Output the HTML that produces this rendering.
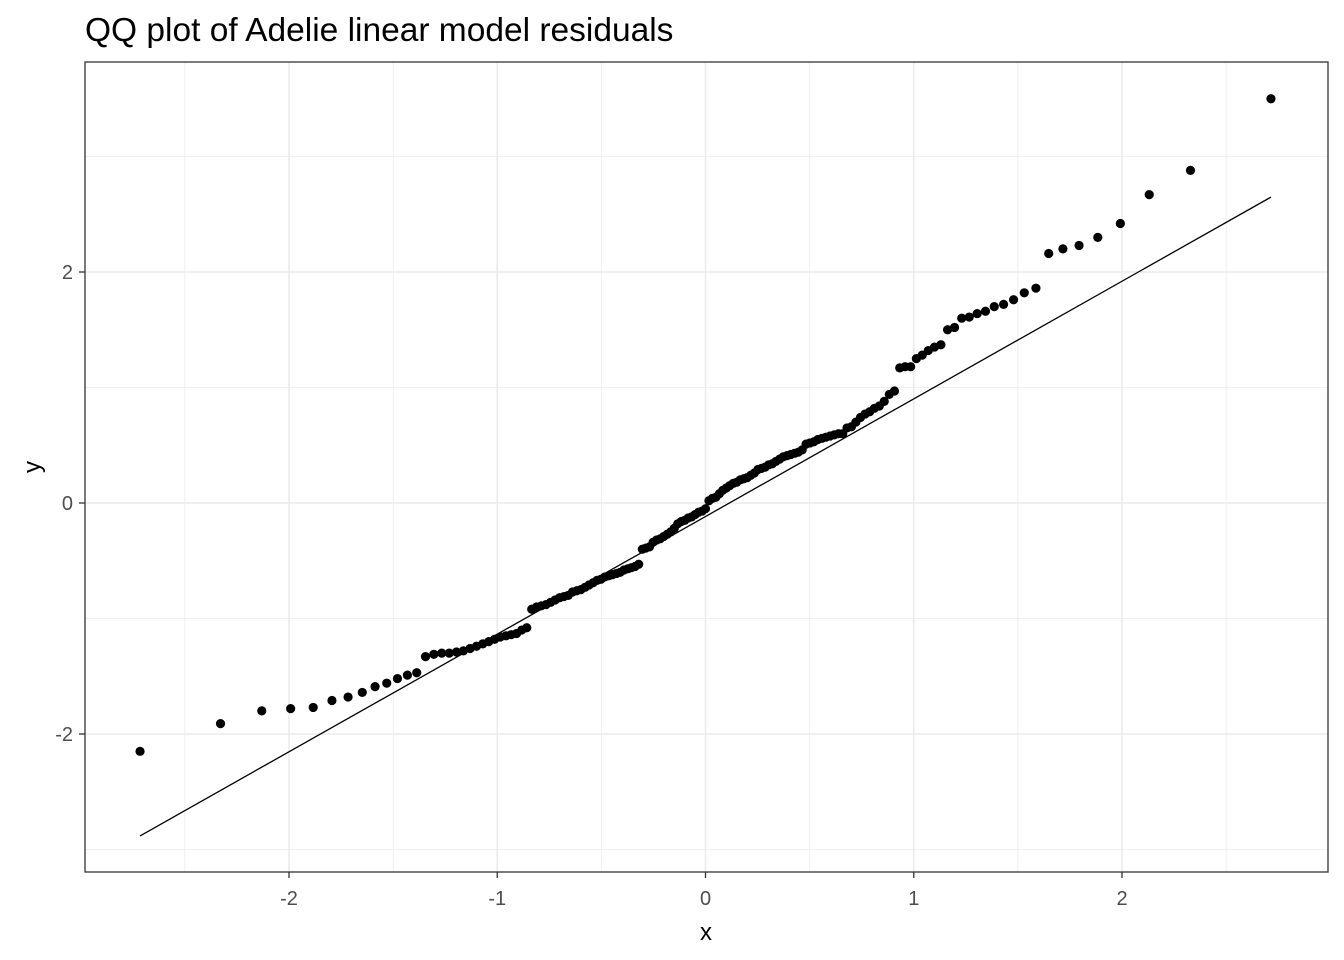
<!DOCTYPE html>
<html><head><meta charset="utf-8">
<style>
body{margin:0;background:#fff;}
svg{display:block;font-family:"Liberation Sans",Arial,sans-serif;}
</style></head>
<body>
<svg id="chart" width="1344" height="960" viewBox="0 0 1344 960">
<rect x="0" y="0" width="1344" height="960" fill="#fff"/>
<text x="85" y="41" font-size="33.5" fill="#000">QQ plot of Adelie linear model residuals</text>
<g id="grid"></g>
<g id="line"></g>
<g id="points"></g>
<rect x="85" y="62" width="1243" height="810" fill="none" stroke="#333" stroke-width="1.3"/>
<g id="axes"></g>
<text x="706" y="940" font-size="24" text-anchor="middle" fill="#000">x</text>
<text x="40" y="467" font-size="24" text-anchor="middle" fill="#000" transform="rotate(-90 40 467)">y</text>
</svg>
<script>
const sampleValues = [-2.15,-1.91,-1.80,-1.78,-1.77,-1.71,-1.68,-1.64,-1.59,-1.56,-1.52,-1.49,-1.47,
-1.33,-1.31,-1.30,-1.30,-1.29,-1.28,-1.26,-1.24,-1.22,
-1.20,-1.18,-1.16,-1.15,-1.14,-1.13,-1.10,-1.08,
-0.92,-0.90,-0.89,-0.88,-0.86,-0.84,-0.82,-0.81,-0.80,-0.77,-0.76,-0.75,-0.73,-0.71,-0.69,-0.67,-0.66,-0.64,-0.63,-0.62,-0.61,-0.60,-0.58,-0.57,-0.56,-0.55,-0.53,
-0.40,-0.39,-0.38,-0.34,-0.32,-0.31,-0.29,-0.27,-0.25,-0.22,-0.18,-0.16,-0.15,-0.13,-0.12,-0.10,-0.08,-0.07,
-0.05,0.02,0.04,0.05,0.08,0.11,0.13,0.15,0.17,0.18,0.20,0.21,0.22,0.24,0.26,0.29,0.30,0.31,0.33,0.34,0.36,0.38,0.40,0.41,0.42,0.43,0.44,0.46,0.51,0.52,0.53,0.55,0.56,0.57,0.58,0.59,0.60,0.60,0.65,0.66,0.70,0.74,0.77,0.79,0.82,
0.84,0.88,0.94,0.97,1.17,1.18,1.18,1.25,1.28,1.32,1.35,1.37,1.50,1.52,1.60,1.61,1.64,1.66,1.70,1.72,1.76,1.82,1.86,2.16,2.20,2.23,2.30,2.42,2.67,2.88,3.50];
const refLine = [1.0185, -0.117]; // slope, intercept
const xTicks = [-2,-1,0,1,2];
const yTicks = [-2,0,2];
const xMinor = [-2.5,-1.5,-0.5,0.5,1.5,2.5];
const yMinor = [-3,-1,1,3];

const NS="http://www.w3.org/2000/svg";
function sx(v){return 705.5+v*208.25;}
function sy(v){return 503-v*115.5;}
function qnorm(p){
  const a=[-39.6968302866538,220.946098424521,-275.928510446969,138.357751867269,-30.6647980661472,2.50662827745924];
  const b=[-54.4760987982241,161.585836858041,-155.698979859887,66.8013118877197,-13.2806815528857];
  const c=[-0.00778489400243029,-0.322396458041136,-2.40075827716184,-2.54973253934373,4.37466414146497,2.93816398269878];
  const d=[0.00778469570904146,0.32246712907004,2.445134137143,3.75440866190742];
  let q,r;
  if(p<0.02425){q=Math.sqrt(-2*Math.log(p));return (((((c[0]*q+c[1])*q+c[2])*q+c[3])*q+c[4])*q+c[5])/((((d[0]*q+d[1])*q+d[2])*q+d[3])*q+1);}
  if(p>1-0.02425){q=Math.sqrt(-2*Math.log(1-p));return -(((((c[0]*q+c[1])*q+c[2])*q+c[3])*q+c[4])*q+c[5])/((((d[0]*q+d[1])*q+d[2])*q+d[3])*q+1);}
  q=p-0.5;r=q*q;
  return (((((a[0]*r+a[1])*r+a[2])*r+a[3])*r+a[4])*r+a[5])*q/(((((b[0]*r+b[1])*r+b[2])*r+b[3])*r+b[4])*r+1);
}
function mk(tag,attrs,parent){const e=document.createElementNS(NS,tag);for(const k in attrs)e.setAttribute(k,attrs[k]);parent.appendChild(e);return e;}
const grid=document.getElementById('grid'),axes=document.getElementById('axes');
xMinor.forEach(v=>{const l=mk('line',{x1:sx(v),x2:sx(v),y1:62,y2:872,stroke:'#ebebeb','stroke-width':0.8},grid);

});
yMinor.forEach(v=>{const y=sy(v);if(y<62||y>872)return;const l=mk('line',{x1:85,x2:1328,y1:y,y2:y,stroke:'#ebebeb','stroke-width':0.8},grid);

});
xTicks.forEach(v=>{const x=sx(v);const l=mk('line',{x1:x,x2:x,y1:62,y2:872,stroke:'#ebebeb','stroke-width':1.6},grid);


const t=mk('line',{x1:x,x2:x,y1:872,y2:878,stroke:'#333','stroke-width':1.3},axes);


const tx=mk('text',{x:x,y:905,'font-size':20,'text-anchor':'middle',fill:'#4d4d4d'},axes);tx.textContent=v;

});
yTicks.forEach(v=>{const y=sy(v);const l=mk('line',{x1:85,x2:1328,y1:y,y2:y,stroke:'#ebebeb','stroke-width':1.6},grid);


const t=mk('line',{x1:79,x2:85,y1:y,y2:y,stroke:'#333','stroke-width':1.3},axes);


const tx=mk('text',{x:73,y:y+7,'font-size':20,'text-anchor':'end',fill:'#4d4d4d'},axes);tx.textContent=v;

});
const n=sampleValues.length;
const theo=sampleValues.map((_,i)=>qnorm((i+0.5)/n));
const x0=theo[0],x1=theo[n-1];
const ln=mk('line',{x1:sx(x0),y1:sy(refLine[1]+refLine[0]*x0),x2:sx(x1),y2:sy(refLine[1]+refLine[0]*x1),stroke:'#000','stroke-width':1.3},document.getElementById('line'));


const pts=document.getElementById('points');
sampleValues.forEach((v,i)=>{const c=mk('circle',{cx:sx(theo[i]),cy:sy(v),r:4.6,fill:'#000'},pts);

});
</script>
</body></html>
